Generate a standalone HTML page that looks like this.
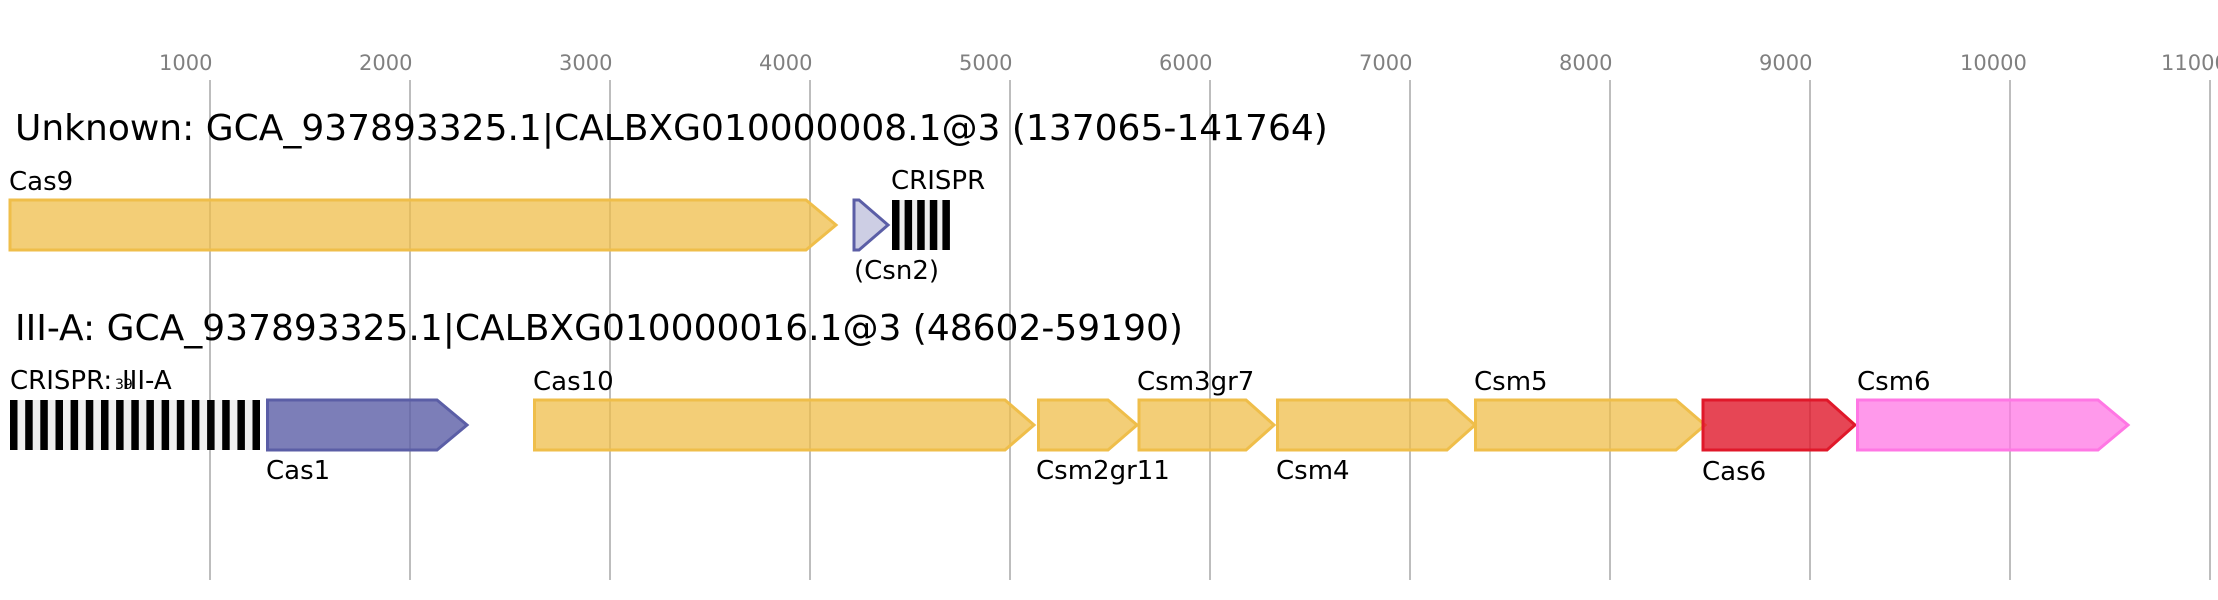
<!DOCTYPE html>
<html>
<head>
<meta charset="utf-8">
<style>
  html, body { margin: 0; padding: 0; background: #ffffff; }
  svg { display: block; }
  text { font-family: "DejaVu Sans", "Liberation Sans", sans-serif; }
</style>
</head>
<body>
<svg width="2218" height="600" viewBox="0 0 2218 600" xmlns="http://www.w3.org/2000/svg">
  <rect x="0" y="0" width="2218" height="600" fill="#ffffff"/>

  <!-- grid lines -->
  <g stroke="#bdbdbd" stroke-width="2">
    <line x1="210" y1="80" x2="210" y2="580"/>
    <line x1="410" y1="80" x2="410" y2="580"/>
    <line x1="610" y1="80" x2="610" y2="580"/>
    <line x1="810" y1="80" x2="810" y2="580"/>
    <line x1="1010" y1="80" x2="1010" y2="580"/>
    <line x1="1210" y1="80" x2="1210" y2="580"/>
    <line x1="1410" y1="80" x2="1410" y2="580"/>
    <line x1="1610" y1="80" x2="1610" y2="580"/>
    <line x1="1810" y1="80" x2="1810" y2="580"/>
    <line x1="2010" y1="80" x2="2010" y2="580"/>
    <line x1="2210" y1="80" x2="2210" y2="580"/>
  </g>

  <!-- tick labels -->
  <g font-size="21" fill="#808080">
    <text x="159" y="70">1000</text>
    <text x="359" y="70">2000</text>
    <text x="559" y="70">3000</text>
    <text x="759" y="70">4000</text>
    <text x="959" y="70">5000</text>
    <text x="1159" y="70">6000</text>
    <text x="1359" y="70">7000</text>
    <text x="1559" y="70">8000</text>
    <text x="1759" y="70">9000</text>
    <text x="1960" y="70">10000</text>
    <text x="2161" y="70">11000</text>
  </g>

  <!-- titles -->
  <text x="15" y="140" font-size="36" fill="#000">Unknown: GCA_937893325.1|CALBXG010000008.1@3 (137065-141764)</text>
  <text x="15" y="340" font-size="36" fill="#000">III-A: GCA_937893325.1|CALBXG010000016.1@3 (48602-59190)</text>

  <!-- ROW 1 -->
  <!-- Cas9 -->
  <path d="M10,200 L806,200 L836,225 L806,250 L10,250 Z" fill="rgb(239,190,74)" fill-opacity="0.75" stroke="rgb(239,190,74)" stroke-width="3"/>
  <!-- Csn2 -->
  <path d="M854,200 L859,200 L888,225 L859,250 L854,250 Z" fill="rgb(91,94,166)" fill-opacity="0.3" stroke="rgb(91,94,166)" stroke-width="3"/>
  <!-- CRISPR row 1 -->
  <rect x="892" y="200" width="58" height="50" fill="#efefef"/>
  <g fill="#000">
    <rect x="892" y="200" width="7.5" height="50"/>
    <rect x="904.6" y="200" width="7.5" height="50"/>
    <rect x="917.2" y="200" width="7.5" height="50"/>
    <rect x="929.8" y="200" width="7.5" height="50"/>
    <rect x="942.4" y="200" width="7.5" height="50"/>
  </g>
  <g font-size="26" fill="#000">
    <text x="9" y="190">Cas9</text>
    <text x="891" y="189">CRISPR</text>
    <text x="854" y="279">(Csn2)</text>
  </g>

  <!-- ROW 2 -->
  <!-- CRISPR array row 2 -->
  <rect x="10" y="400" width="250" height="50" fill="#efefef"/>
  <g fill="#000">
    <rect x="10" y="400" width="7.5" height="50"/>
    <rect x="25.2" y="400" width="7.5" height="50"/>
    <rect x="40.3" y="400" width="7.5" height="50"/>
    <rect x="55.5" y="400" width="7.5" height="50"/>
    <rect x="70.6" y="400" width="7.5" height="50"/>
    <rect x="85.8" y="400" width="7.5" height="50"/>
    <rect x="101" y="400" width="7.5" height="50"/>
    <rect x="116.1" y="400" width="7.5" height="50"/>
    <rect x="131.3" y="400" width="7.5" height="50"/>
    <rect x="146.4" y="400" width="7.5" height="50"/>
    <rect x="161.6" y="400" width="7.5" height="50"/>
    <rect x="176.8" y="400" width="7.5" height="50"/>
    <rect x="191.9" y="400" width="7.5" height="50"/>
    <rect x="207.1" y="400" width="7.5" height="50"/>
    <rect x="222.2" y="400" width="7.5" height="50"/>
    <rect x="237.4" y="400" width="7.5" height="50"/>
    <rect x="252.5" y="400" width="7.5" height="50"/>
  </g>

  <!-- Cas1 -->
  <path d="M267.5,400 L437,400 L467,425 L437,450 L267.5,450 Z" fill="rgb(91,94,166)" fill-opacity="0.8" stroke="rgb(91,94,166)" stroke-width="3"/>
  <!-- Cas10 -->
  <path d="M534.5,400 L1005,400 L1034,425 L1005,450 L534.5,450 Z" fill="rgb(239,190,74)" fill-opacity="0.75" stroke="rgb(239,190,74)" stroke-width="3"/>
  <!-- Csm2gr11 -->
  <path d="M1038.5,400 L1108,400 L1137,425 L1108,450 L1038.5,450 Z" fill="rgb(239,190,74)" fill-opacity="0.75" stroke="rgb(239,190,74)" stroke-width="3"/>
  <!-- Csm3gr7 -->
  <path d="M1139,400 L1246,400 L1274,425 L1246,450 L1139,450 Z" fill="rgb(239,190,74)" fill-opacity="0.75" stroke="rgb(239,190,74)" stroke-width="3"/>
  <!-- Csm4 -->
  <path d="M1277.5,400 L1447,400 L1475,425 L1447,450 L1277.5,450 Z" fill="rgb(239,190,74)" fill-opacity="0.75" stroke="rgb(239,190,74)" stroke-width="3"/>
  <!-- Csm5 -->
  <path d="M1475.5,400 L1676,400 L1705,425 L1676,450 L1475.5,450 Z" fill="rgb(239,190,74)" fill-opacity="0.75" stroke="rgb(239,190,74)" stroke-width="3"/>
  <!-- Cas6 -->
  <path d="M1703,400 L1827,400 L1855,425 L1827,450 L1703,450 Z" fill="rgb(224,24,42)" fill-opacity="0.8" stroke="rgb(224,24,42)" stroke-width="3"/>
  <!-- Csm6 -->
  <path d="M1857.5,400 L2098,400 L2128,425 L2098,450 L1857.5,450 Z" fill="rgb(255,119,228)" fill-opacity="0.75" stroke="rgb(255,119,228)" stroke-width="3"/>

  <!-- row 2 labels -->
  <g font-size="26" fill="#000">
    <text x="10" y="389">CRISPR:</text>
    <text x="115" y="389" font-size="14">39</text>
    <text x="122" y="389">III-A</text>
    <text x="266" y="479">Cas1</text>
    <text x="533" y="390">Cas10</text>
    <text x="1036" y="479">Csm2gr11</text>
    <text x="1137" y="390">Csm3gr7</text>
    <text x="1276" y="479">Csm4</text>
    <text x="1474" y="390">Csm5</text>
    <text x="1702" y="480">Cas6</text>
    <text x="1857" y="390">Csm6</text>
  </g>
</svg>
</body>
</html>
